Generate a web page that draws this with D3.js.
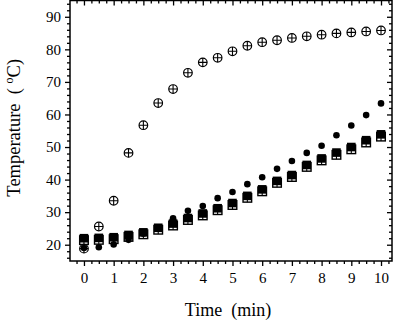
<!DOCTYPE html>
<html><head><meta charset="utf-8">
<script src="https://cdn.jsdelivr.net/npm/d3@7"></script>
<style>html,body{margin:0;padding:0;background:#fff;}svg{display:block;}</style>
</head><body>
<script>
const time = [0,0.5,1,1.5,2,2.5,3,3.5,4,4.5,5,5.5,6,6.5,7,7.5,8,8.5,9,9.5,10];
const crossCircle = [18.8,25.6,33.5,48.2,56.7,63.5,67.8,72.8,76.0,77.4,79.4,81.1,82.2,82.8,83.5,84.0,84.5,84.9,85.2,85.5,85.8];
const filledCircle = [19.0,19.2,20.1,21.5,23.4,25.2,28.1,30.4,31.9,34.3,36.2,38.6,40.7,43.3,45.7,48.2,50.4,53.6,56.6,59.8,63.4];
const filledSquare = [22.0,22.1,22.3,23.0,23.8,25.2,26.5,28.2,29.6,31.2,32.8,35.0,37.0,39.6,41.4,44.5,46.5,48.3,50.0,52.1,53.9];
const crossSquare = [21.4,21.5,21.7,22.4,23.2,24.6,25.9,27.6,29.0,30.6,32.2,34.4,36.4,39.0,40.8,43.9,45.9,47.6,49.3,51.4,53.2];
const xTicks = [0,1,2,3,4,5,6,7,8,9,10];
const yTicks = [20,30,40,50,60,70,80,90];

const W = 396, H = 325;
const L = 70, R = 392, T = 0.5, B = 261;
const svg = d3.select("body").append("svg").attr("width", W).attr("height", H);
const x = d3.scaleLinear().domain([-0.47, 10.37]).range([L, R]);
const y = d3.scaleLinear().domain([15, 95]).range([B, T]);
const font = "'Liberation Serif', 'Times New Roman', serif";

const xMinor = d3.range(-0.25, 10.3, 0.25).filter(v => Math.abs(v - Math.round(v)) > 1e-6);
const yMinor = d3.range(16, 95, 2).filter(v => v % 10 !== 0);

function styleAxis(g){
  g.select(".domain").remove();
  g.selectAll("line").attr("stroke", "#000").attr("stroke-width", 1.3);
  g.selectAll("text").attr("font-family", font).attr("font-size", 15).attr("fill", "#000");
}
// bottom
svg.append("g").attr("transform", `translate(0,${B})`)
  .call(d3.axisBottom(x).tickValues(xTicks).tickSize(5).tickPadding(6).tickFormat(d3.format("d"))).call(styleAxis);
svg.append("g").attr("transform", `translate(0,${B})`)
  .call(d3.axisBottom(x).tickValues(xMinor).tickSize(3).tickFormat("")).call(styleAxis);
// top (inward)
svg.append("g").attr("transform", `translate(0,${T})`)
  .call(d3.axisBottom(x).tickValues(xTicks).tickSize(5).tickFormat("")).call(styleAxis);
svg.append("g").attr("transform", `translate(0,${T})`)
  .call(d3.axisBottom(x).tickValues(xMinor).tickSize(3).tickFormat("")).call(styleAxis);
// left
svg.append("g").attr("transform", `translate(${L},0)`)
  .call(d3.axisLeft(y).tickValues(yTicks).tickSize(5).tickPadding(4).tickFormat(d3.format("d"))).call(styleAxis);
svg.append("g").attr("transform", `translate(${L},0)`)
  .call(d3.axisLeft(y).tickValues(yMinor).tickSize(3).tickFormat("")).call(styleAxis);
// right (inward)
svg.append("g").attr("transform", `translate(${R},0)`)
  .call(d3.axisLeft(y).tickValues(yTicks).tickSize(5).tickFormat("")).call(styleAxis);
svg.append("g").attr("transform", `translate(${R},0)`)
  .call(d3.axisLeft(y).tickValues(yMinor).tickSize(3).tickFormat("")).call(styleAxis);

// frame
svg.append("rect").attr("x", L).attr("y", T).attr("width", R - L).attr("height", B - T)
  .attr("fill", "none").attr("stroke", "#000").attr("stroke-width", 1.5);

const data = (arr) => time.map((t, i) => ({t, v: arr[i]}));
const s = 4.3;

// crossed squares
const cs = svg.append("g").selectAll("g").data(data(crossSquare)).join("g")
  .attr("transform", d => `translate(${x(d.t)},${y(d.v)})`);
cs.append("rect").attr("x", -s).attr("y", -s).attr("width", 2 * s).attr("height", 2 * s)
  .attr("fill", "#fff").attr("stroke", "#000").attr("stroke-width", 1.4);
cs.append("path").attr("d", `M${-s},0H${s}M0,${-s}V${s}`).attr("stroke", "#000").attr("stroke-width", 1.1);

// filled squares
svg.append("g").selectAll("rect").data(data(filledSquare)).join("rect")
  .attr("x", d => x(d.t) - s).attr("y", d => y(d.v) - s).attr("width", 2 * s).attr("height", 2 * s)
  .attr("fill", "#000");

// crossed circles
const cc = svg.append("g").selectAll("g").data(data(crossCircle)).join("g")
  .attr("transform", d => `translate(${x(d.t)},${y(d.v)})`);
cc.append("circle").attr("r", 4.3).attr("fill", "#fff").attr("stroke", "#000").attr("stroke-width", 1.2);
cc.append("path").attr("d", "M-4.3,0H4.3M0,-4.3V4.3").attr("stroke", "#000").attr("stroke-width", 1.1);

// filled circles
svg.append("g").selectAll("circle").data(data(filledCircle)).join("circle")
  .attr("cx", d => x(d.t)).attr("cy", d => y(d.v)).attr("r", 3.3).attr("fill", "#000");

// axis titles
svg.append("text").attr("x", (L + R) / 2 - 3).attr("y", 316).attr("text-anchor", "middle")
  .attr("font-family", font).attr("font-size", 18).attr("xml:space", "preserve").text("Time  (min)");
const yt = svg.append("text").attr("transform", `translate(20,${(T + B) / 2 - 3}) rotate(-90)`)
  .attr("text-anchor", "middle").attr("font-family", font).attr("font-size", 18.5).attr("xml:space", "preserve");
yt.append("tspan").text("Temperature  ( ");
yt.append("tspan").attr("font-size", 12).attr("dy", -7).text("o");
yt.append("tspan").attr("dy", 7).text("C)");
</script>
</body></html>
